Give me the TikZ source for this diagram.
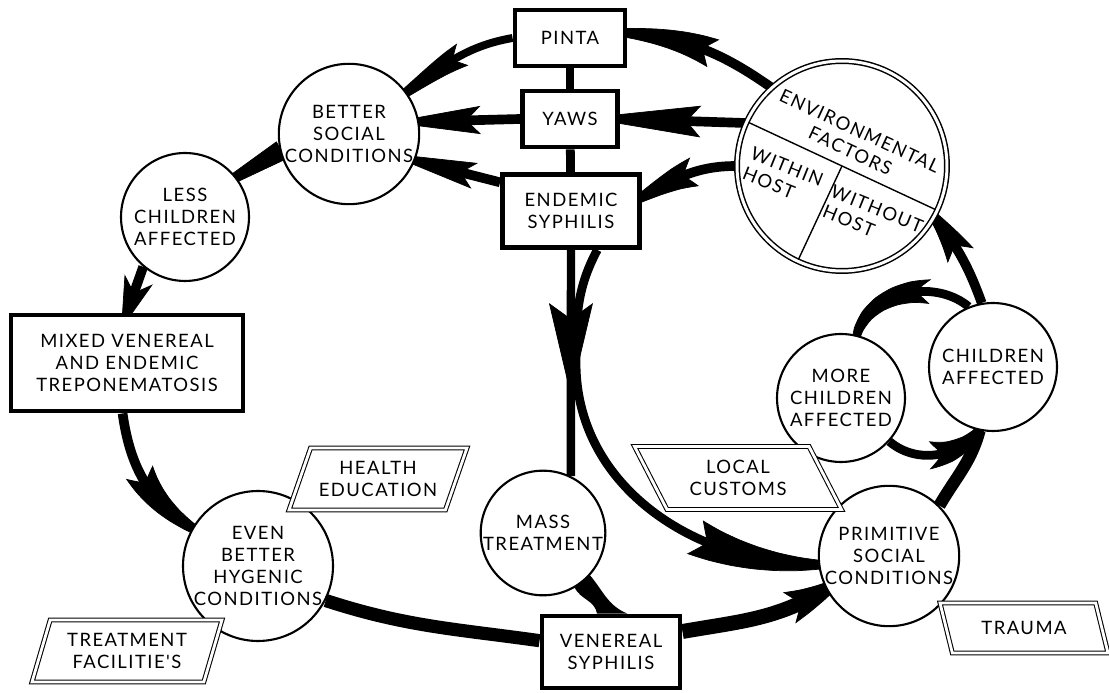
\documentclass[tikz,border=0pt]{standalone}
\usepackage{fontspec}
\newfontfamily\lettering[LetterSpace=8]{Lato}
\usetikzlibrary{arrows.meta,bending,shapes.geometric,backgrounds,decorations.markings}

\tikzset{
  every node/.style={font=\lettering\fontsize{10.5pt}{12.4pt}\selectfont},
  box/.style={draw, line width=2.8pt, fill=white, align=center, inner sep=1pt},
  disc/.style={circle, draw, line width=1.2pt, fill=white, align=center, inner sep=0pt, minimum size=2.56cm},
  tag/.style={trapezium, draw, double, double distance=1.6pt, line width=0.6pt, fill=white,
    align=center, inner sep=0pt, trapezium stretches body},
  flow/.style={line width=5.5pt},
  flowhead/.style n args={3}{-{Stealth[length=#1, width=#2, inset=8pt, line width=0.4pt, bend]}, shorten >=-#3},
}

\begin{document}
\begin{tikzpicture}[x=0.02cm, y=0.02cm]
  \useasboundingbox (0,0) rectangle (1109,693);

  % Boxes
  \node[box, minimum width=2.2cm, minimum height=1.12cm] (pinta) at (570,655) {PINTA};
  \node[box, minimum width=1.9cm, minimum height=1.12cm] (yaws) at (570,574) {YAWS};
  \node[box, minimum width=2.74cm, minimum height=1.46cm] (endemic) at (571,482) {ENDEMIC\\SYPHILIS};
  \node[box, minimum width=4.64cm, minimum height=1.92cm] (mixed) at (127,330) {MIXED VENEREAL\\AND ENDEMIC\\TREPONEMATOSIS};
  \node[box, minimum width=2.76cm, minimum height=1.44cm] (venereal) at (611,41) {VENEREAL\\SYPHILIS};

  % Circles
  \node[disc] (better) at (349,559) {BETTER\\SOCIAL\\CONDITIONS};
  \node[disc] (less) at (185,476) {LESS\\CHILDREN\\AFFECTED};
  \node[disc] (even) at (258,127) {EVEN\\BETTER\\HYGENIC\\CONDITIONS};
  \node[disc, minimum size=2.28cm] (mass) at (543,160) {MASS\\TREATMENT};
  \node[disc] (primitive) at (889,137) {PRIMITIVE\\SOCIAL\\CONDITIONS};
  \node[disc] (more) at (841,295) {MORE\\CHILDREN\\AFFECTED};
  \node[disc] (children) at (993,326) {CHILDREN\\AFFECTED};

  % Environmental factors
  \node[disc, double, double distance=1.7pt, line width=0.85pt, minimum size=4.2cm] (env) at (842,527) {};
  \draw[line width=0.8pt, shorten <=1.5pt, shorten >=1.5pt] (env.155) -- (env.-25);
  \draw[line width=0.8pt, shorten >=1.5pt] (env.center) -- (env.245);
  \node[rotate=-25, align=center] (envtitle) at (855,552) {ENVIRONMENTAL\\FACTORS};
  \node[rotate=-22, align=left] (within) at (783,516) {WITHIN\\HOST};
  \node[rotate=-22, align=left] (without) at (873,474) {WITHOUT\\HOST};

  % Factors
  \node[tag, trapezium left angle=58.5, trapezium right angle=121.5, minimum width=3.56cm, minimum height=1.24cm] (health) at (378,214) {HEALTH\\EDUCATION};
  \node[tag, trapezium left angle=62.7, trapezium right angle=117.3, minimum width=3.8cm, minimum height=1.24cm] (treat) at (127,42) {TREATMENT\\FACILITIE'S};
  \node[tag, trapezium left angle=132.6, trapezium right angle=47.4, minimum width=4.14cm, minimum height=1.26cm] (local) at (738,215) {LOCAL\\CUSTOMS};
  \node[tag, trapezium left angle=132.6, trapezium right angle=47.4, minimum width=3.36cm, minimum height=1cm] (trauma) at (1024,65) {TRAUMA};

  % Arcs
  \begin{scope}[on background layer]
    \draw[flow, line width=5pt] (pinta) -- (yaws);
    \draw[flow, line width=5pt] (yaws) -- (endemic);

    \draw[flow, flowhead={85pt}{17pt}{28pt}] (env.132) to[out=145, in=-5] (pinta.5);
    \draw[flow, flowhead={66pt}{18pt}{20pt}] (env.156) -- (yaws.east);
    \draw[flow, flowhead={55pt}{17pt}{18pt}] (env.180) to[out=180, in=30] (endemic.11);

    \draw[flow, line width=4.5pt, flowhead={71pt}{14pt}{28pt}] (pinta.west) to[out=190, in=36] (better.36);
    \draw[flow, flowhead={52pt}{16pt}{17pt}] (yaws.west) -- (better.10);
    \draw[flow, flowhead={53pt}{15pt}{18pt}] (endemic.158) -- (better.-22);

    \draw[line width=2pt, -{Triangle[length=62pt, width=11.5pt, line width=0.4pt]}, shorten >=-32pt] (better.194) -- (less.38);
    \draw[flow, flowhead={30pt}{17pt}{10pt}] (less.230) -- (mixed.north);
    \draw[flow, flowhead={74pt}{17pt}{25pt}] (mixed.265) to[out=-82, in=148] (even.150);

    \draw[flow, line width=7.5pt] (even.-27) to[out=-18, in=172] (venereal.171);
    \draw[flow, line width=8.5pt, flowhead={43pt}{19pt}{18pt}] (venereal.16) to[out=10, in=211] (primitive.208);
    \fill (mass.-42) to[out=-50, in=158] (venereal.67) -- (venereal.110) to[out=100, in=-62] (mass.-60) -- cycle;

    \draw[flow, line width=4.8pt, postaction={decorate},
      decoration={markings, mark=at position 0.647 with {\arrow{Stealth[length=53pt, width=25pt, inset=9pt, line width=0.4pt]}}}]
      (endemic.south) -- (mass.64);
    \coordinate (split) at (576,330);
    \draw[flow, line width=5pt, flowhead={101pt}{21pt}{27pt}] (endemic.-56) to[out=-118, in=90] (split) to[out=-90, in=180] (primitive.187);

    \draw[flow, flowhead={43pt}{17pt}{14pt}] (children.100) to[out=110, in=-52] (env.-29);
    \draw[flow, line width=5pt, flowhead={80pt}{14pt}{28pt}] (children.112) to[out=140, in=75] (more.76);
    \draw[flow, line width=5pt, flowhead={49pt}{16pt}{15pt}] (more.-42) to[out=-40, in=230] (children.258);
    \draw[flow, line width=7pt] (primitive.45) to[out=60, in=255] (children.258);
  \end{scope}
\end{tikzpicture}
\end{document}
